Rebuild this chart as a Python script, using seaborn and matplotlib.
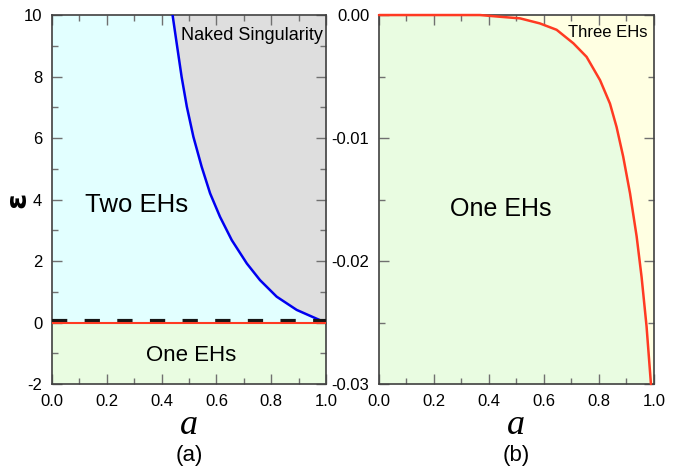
import matplotlib
matplotlib.use("Agg")
import matplotlib.pyplot as plt
import matplotlib.transforms as mtransforms
from matplotlib.ticker import MultipleLocator, FormatStrFormatter
import seaborn as sns

# 数据 (a) : 裸奇点与两个视界的分界线
a_blue = [0.440, 0.455, 0.473, 0.492, 0.516, 0.546, 0.577, 0.613, 0.656, 0.711,
          0.759, 0.820, 0.893, 0.954, 0.990, 1.0]
eps_blue = [10.0, 9.08, 7.99, 7.02, 6.04, 5.07, 4.20, 3.44, 2.68, 1.92,
            1.38, 0.84, 0.41, 0.17, 0.03, 0.0]
a_zero = [0.0, 1.0]
eps_zero = [0.0, 0.0]

# 数据 (b) : 一个视界与三个视界的分界线
a_red = [0.0, 0.367, 0.44, 0.513, 0.585, 0.646, 0.707, 0.755, 0.804, 0.84, 0.864,
         0.888, 0.913, 0.937, 0.955, 0.973, 0.988, 0.989]
eps_red = [0.0, 0.0, -0.00014, -0.00027, -0.00068, -0.0012, -0.0023, -0.0034, -0.0053,
           -0.0072, -0.0091, -0.0115, -0.0145, -0.0180, -0.0213, -0.0253, -0.0297, -0.030]

x_ticks = [0.0, 0.2, 0.4, 0.6, 0.8, 1.0]
panel_labels = ['(a)', '(b)']

CYAN = '#E2FFFF'
GRAY = '#DEDEDE'
GREEN = '#E9FCE1'
YELLOW = '#FFFFE2'
BLUE = '#0000F0'
RED = '#FF3A22'

sns.set_style('ticks')
plt.rcParams['font.family'] = ['Liberation Sans', 'DejaVu Sans']
plt.rcParams['axes.unicode_minus'] = False
plt.rcParams['lines.scale_dashes'] = False
plt.rcParams['text.color'] = 'black'
plt.rcParams['axes.labelcolor'] = 'black'
plt.rcParams['xtick.labelcolor'] = 'black'
plt.rcParams['ytick.labelcolor'] = 'black'


def style_axes(ax):
    """统一坐标轴样式"""
    ax.set_xlim(0, 1)
    ax.set_xticks(x_ticks)
    ax.xaxis.set_minor_locator(MultipleLocator(0.1))
    ax.xaxis.set_major_formatter(FormatStrFormatter('%.1f'))
    ax.tick_params(which='both', direction='in', top=True, right=True,
                   color='#707070', labelcolor='black', labelsize=12, pad=7)
    ax.tick_params(which='major', length=7, width=1)
    ax.tick_params(which='minor', length=4, width=1)
    for sp in ax.spines.values():
        sp.set_visible(True)
        sp.set_color('#404040')
        sp.set_linewidth(1.2)
    ax.set_xlabel('a', fontsize=26, style='italic', family='Liberation Serif', labelpad=0)
    ax.set_ylabel('')


fig = plt.figure(figsize=(6.81, 4.67), dpi=100)
ax1 = fig.add_axes([0.0764, 0.1777, 0.4023, 0.7901])
ax2 = fig.add_axes([0.5565, 0.1777, 0.4038, 0.7901])

# ---- 图 (a) ----
ax1.set_ylim(-2, 10)
ax1.axhspan(-2, 0, color=GREEN, lw=0, zorder=0)
ax1.fill_betweenx(eps_blue, 0, a_blue, color=CYAN, lw=0, zorder=0)
ax1.fill_betweenx(eps_blue, a_blue, 1, color=GRAY, lw=0, zorder=0)
sns.lineplot(x=a_blue, y=eps_blue, ax=ax1, color=BLUE, lw=1.8, sort=False, zorder=3)

# 黑色虚线略高于红线
shift = mtransforms.offset_copy(ax1.transData, fig=fig, y=1.0, units='points')
sns.lineplot(x=a_zero, y=eps_zero, ax=ax1, color='#151515', lw=3, zorder=3,
             transform=shift)
ax1.lines[-1].set_dashes((11, 12.5))
sns.lineplot(x=a_zero, y=eps_zero, ax=ax1, color=RED, lw=1.5, zorder=4)

ax1.yaxis.set_major_locator(MultipleLocator(2))
ax1.yaxis.set_minor_locator(MultipleLocator(1))
style_axes(ax1)
ax1.set_ylabel('ε', fontsize=21, fontweight='bold', family='DejaVu Sans',
               va='center', rotation=90)
ax1.yaxis.set_label_coords(-0.125, 0.5)

ax1.text(0.73, 9.35, 'Naked Singularity', fontsize=13, ha='center', va='center')
ax1.text(0.307, 3.82, 'Two EHs', fontsize=18.5, ha='center', va='center')
ax1.text(0.507, -1.06, 'One EHs', fontsize=16, ha='center', va='center')

# ---- 图 (b) ----
ax2.set_ylim(-0.03, 0.0)
ax2.set_facecolor(YELLOW)
ax2.fill_between(a_red, -0.03, eps_red, color=GREEN, lw=0, zorder=0)
sns.lineplot(x=a_red, y=eps_red, ax=ax2, color=RED, lw=1.8, sort=False, zorder=3,
             clip_on=False)
ax2.yaxis.set_major_locator(MultipleLocator(0.01))
ax2.yaxis.set_minor_locator(MultipleLocator(0.005))
ax2.yaxis.set_major_formatter(FormatStrFormatter('%.2f'))
style_axes(ax2)

ax2.text(0.833, -0.00138, 'Three EHs', fontsize=12, ha='center', va='center')
ax2.text(0.443, -0.0158, 'One EHs', fontsize=18, ha='center', va='center')

# 子图标签
fig.text(0.2775, 0.025, panel_labels[0], fontsize=16, ha='center', va='center')
fig.text(0.758, 0.025, panel_labels[1], fontsize=16, ha='center', va='center')

fig.savefig('out.png', dpi=100)
plt.close(fig)
